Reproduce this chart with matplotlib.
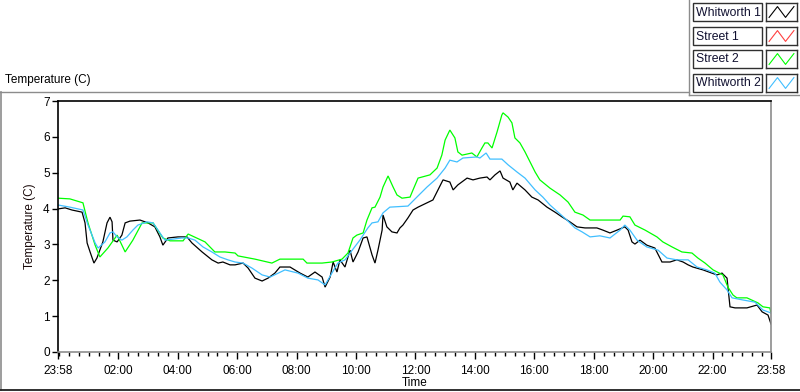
import matplotlib
matplotlib.use("Agg")
import matplotlib.pyplot as plt
from matplotlib.patches import Rectangle
from matplotlib.lines import Line2D

plt.rcParams['font.family'] = ['Liberation Sans', 'DejaVu Sans']

# ---- data: hours elapsed since 23:58, temperature (C) ----
w1_h = [0, 0.24, 0.47, 0.81, 0.91, 0.98, 1.08, 1.21, 1.31, 1.51, 1.65, 1.75, 1.82, 1.85, 1.99,
        2.15, 2.26, 2.42, 2.76, 3.03, 3.26, 3.43, 3.53, 3.70, 4.04, 4.34, 4.51, 4.85, 5.18, 5.39,
        5.55, 5.79, 5.96, 6.23, 6.40, 6.63, 6.87, 7.07, 7.30, 7.47, 7.81, 8.15, 8.41, 8.65, 8.89,
        8.99, 9.16, 9.26, 9.39, 9.49, 9.66, 9.83, 9.93, 10.10, 10.27, 10.40, 10.57, 10.67, 10.77,
        10.91, 10.94, 11.07, 11.24, 11.41, 11.51, 11.61, 11.78, 11.95, 12.12, 12.42, 12.62, 12.79,
        12.96, 13.19, 13.30, 13.46, 13.77, 13.97, 14.20, 14.44, 14.54, 14.71, 14.88, 14.98, 15.21,
        15.31, 15.45, 15.72, 15.95, 16.16, 16.46, 16.73, 16.96, 17.23, 17.47, 17.74, 18.14, 18.34,
        18.58, 18.82, 19.08, 19.19, 19.32, 19.42, 19.59, 19.82, 20.09, 20.33, 20.60, 20.83, 21.04,
        21.21, 21.37, 21.71, 22.01, 22.18, 22.35, 22.52, 22.62, 22.79, 23.19, 23.53, 23.70, 23.90,
        24.0]
w1_t = [3.99, 4.02, 3.96, 3.90, 3.60, 3.04, 2.79, 2.48, 2.62, 3.07, 3.60, 3.76, 3.63, 3.12, 3.07,
        3.26, 3.60, 3.65, 3.68, 3.60, 3.49, 3.21, 2.98, 3.18, 3.21, 3.21, 3.04, 2.79, 2.57, 2.48,
        2.51, 2.43, 2.43, 2.48, 2.34, 2.06, 1.98, 2.06, 2.20, 2.37, 2.37, 2.20, 2.09, 2.23, 2.09,
        1.81, 2.09, 2.51, 2.23, 2.57, 2.37, 2.84, 2.51, 2.79, 3.18, 3.21, 2.71, 2.48, 2.84,
        3.40, 3.82, 3.49, 3.35, 3.32, 3.46, 3.54, 3.74, 3.96, 4.04, 4.16, 4.24, 4.52,
        4.80, 4.74, 4.52, 4.66, 4.85, 4.80, 4.85, 4.88, 4.80, 4.94, 5.05, 4.85, 4.74,
        4.52, 4.71, 4.52, 4.32, 4.24, 4.04, 3.90, 3.77, 3.63, 3.49, 3.46, 3.46, 3.40,
        3.32, 3.40, 3.49, 3.40, 3.07, 3.01, 3.12, 2.98, 2.90, 2.51, 2.51, 2.57, 2.51,
        2.43, 2.37, 2.29, 2.20, 2.15, 2.20, 2.06, 1.26, 1.23, 1.23, 1.31, 1.12, 1.03,
        0.78]

s1_h = []
s1_t = []

s2_h = [0, 0.40, 0.84, 1.01, 1.25, 1.41, 1.68, 1.99, 2.26, 2.52, 2.83, 3.20, 3.53, 3.77, 4.21,
        4.38, 4.95, 5.28, 5.62, 5.96, 6.06, 6.63, 7.20, 7.47, 8.25, 8.38, 8.89, 9.22, 9.56, 9.76,
        9.93, 10.06, 10.27, 10.40, 10.57, 10.67, 10.84, 10.94, 11.11, 11.28, 11.41, 11.58, 11.85,
        11.95, 12.12, 12.52, 12.76, 12.92, 13.03, 13.19, 13.36, 13.46, 13.60, 13.93, 14.10, 14.27,
        14.37, 14.47, 14.61, 14.78, 14.94, 14.98, 15.15, 15.28, 15.38, 15.55, 15.72, 15.89, 16.06,
        16.22, 16.56, 16.90, 17.17, 17.40, 17.67, 17.91, 18.58, 18.92, 19.02, 19.25, 19.42, 19.76,
        20.16, 20.36, 20.67, 21.00, 21.34, 21.54, 21.78, 22.05, 22.38, 22.55, 22.72, 22.85, 23.19,
        23.56, 23.73, 23.96, 24.0]
s2_t = [4.29, 4.27, 4.16, 3.60, 2.98, 2.65, 2.90, 3.26, 2.79, 3.12, 3.60, 3.60, 3.18, 3.10, 3.10,
        3.29, 3.07, 2.79, 2.79, 2.76, 2.68, 2.59, 2.48, 2.59, 2.59, 2.48, 2.48, 2.51, 2.59, 2.76,
        3.18, 3.26, 3.32, 3.68, 4.02, 4.04, 4.32, 4.60, 4.91, 4.60, 4.38, 4.29, 4.32,
        4.52, 4.85, 4.94, 5.13, 5.49, 5.91, 6.19, 5.97, 5.58, 5.49, 5.55, 5.44, 5.69,
        5.83, 5.83, 5.69, 6.14, 6.61, 6.67, 6.55, 6.39, 5.97, 5.83, 5.58, 5.30, 5.02,
        4.80, 4.57, 4.38, 4.18, 3.90, 3.82, 3.68, 3.68, 3.68, 3.79, 3.77, 3.54, 3.40,
        3.21, 3.07, 2.93, 2.79, 2.76, 2.62, 2.48, 2.29, 2.15, 1.81, 1.59, 1.51, 1.51,
        1.37, 1.26, 1.23, 1.09]

w2_h = [0, 0.40, 0.84, 1.01, 1.25, 1.35, 1.58, 1.75, 1.85, 1.99, 2.15, 2.32, 2.52, 2.69, 3.00,
        3.20, 3.43, 3.60, 4.17, 4.38, 4.61, 4.88, 5.18, 5.45, 5.72, 5.96, 6.23, 6.53, 6.87, 7.14,
        7.64, 8.08, 8.41, 8.75, 8.99, 9.22, 9.42, 9.66, 9.83, 10.16, 10.43, 10.57, 10.77, 10.94,
        11.17, 11.78, 12.08, 12.42, 12.76, 13.03, 13.19, 13.43, 13.63, 14.10, 14.20, 14.41, 14.54,
        14.94, 15.15, 15.45, 15.72, 16.06, 16.32, 16.56, 16.83, 17.13, 17.40, 17.64, 17.91, 18.24,
        18.58, 18.92, 19.08, 19.25, 19.49, 19.82, 20.20, 20.50, 20.83, 21.21, 21.51, 21.84, 22.11,
        22.28, 22.52, 22.69, 23.06, 23.46, 23.73, 24.0]
w2_t = [4.10, 4.04, 3.96, 3.54, 3.04, 2.90, 3.07, 3.32, 3.35, 3.21, 3.12, 3.21, 3.40, 3.54, 3.63,
        3.60, 3.32, 3.12, 3.18, 3.18, 3.12, 2.93, 2.79, 2.65, 2.57, 2.51, 2.48, 2.34, 2.15, 2.09,
        2.29, 2.20, 2.06, 2.01, 1.87, 2.20, 2.48, 2.57, 2.76, 3.12, 3.46, 3.60, 3.63, 3.88,
        4.04, 4.07, 4.32, 4.60, 4.85, 5.13, 5.35, 5.30, 5.41, 5.44, 5.41, 5.55, 5.38,
        5.38, 5.22, 5.02, 4.85, 4.52, 4.32, 4.10, 3.90, 3.68, 3.46, 3.35, 3.21, 3.24,
        3.18, 3.40, 3.54, 3.40, 3.12, 2.93, 2.84, 2.62, 2.57, 2.57, 2.37, 2.29, 2.20,
        1.95, 1.73, 1.51, 1.45, 1.39, 1.17, 1.09]

series_names = ["Whitworth 1", "Street 1", "Street 2", "Whitworth 2"]
series_colors = ["#000000", "#ff4040", "#00ff00", "#40bfff"]
series_data = [(w1_h, w1_t), (s1_h, s1_t), (s2_h, s2_t), (w2_h, w2_t)]

major_ticks = [0, 2 + 2/60, 4 + 2/60, 6 + 2/60, 8 + 2/60, 10 + 2/60, 12 + 2/60, 14 + 2/60,
               16 + 2/60, 18 + 2/60, 20 + 2/60, 22 + 2/60, 24]
major_labels = ["23:58", "02:00", "04:00", "06:00", "08:00", "10:00", "12:00", "14:00",
                "16:00", "18:00", "20:00", "22:00", "23:58"]
y_ticks = [0, 1, 2, 3, 4, 5, 6, 7]

W, H = 800, 392
fig = plt.figure(figsize=(W / 100, H / 100), dpi=100)
fig.patch.set_facecolor("white")

def fx(x):
    return x / W

def fy(y):
    return 1 - y / H

ax = fig.add_axes([fx(58), fy(352), (771 - 58) / W, (352 - 101) / H])
for (h, t), c in zip(series_data, series_colors):
    ax.plot(h, t, color=c, lw=0.9, solid_joinstyle="miter")

ax.set_xlim(0, 24)
ax.set_ylim(0, 7)
ax.set_xticks(major_ticks)
ax.set_xticklabels(major_labels)
minor = [(20 * k + 2) / 60 for k in range(72)]
ax.set_xticks(minor, minor=True)
ax.set_yticks(y_ticks)
ax.tick_params(axis="y", which="major", length=4, width=1, color="black",
               labelsize=8.5, pad=2)
ax.tick_params(axis="x", which="major", length=5, width=1, color="black",
               labelsize=8.5, pad=4)
ax.tick_params(axis="x", which="minor", length=3, width=1, color="black")
ax.spines["left"].set_color("black")
ax.spines["top"].set_color("black")
ax.spines["right"].set_color("#8c8c8c")
ax.spines["bottom"].set_color("#8c8c8c")
for s in ax.spines.values():
    s.set_linewidth(1.2)
ax.set_xlabel("Time", fontsize=8.5, labelpad=0.5)
ax.set_ylabel("Temperature (C)", fontsize=8.5, labelpad=5, color="#1a0a0a")

# panel title
fig.text(fx(5), fy(80), "Temperature (C)", fontsize=8.5, ha="left", va="center")

# panel borders
gray = "#8c8c8c"
fig.add_artist(Line2D([fx(0), fx(689)], [fy(91.5), fy(91.5)], color=gray, lw=1))
fig.add_artist(Line2D([fx(1), fx(1)], [fy(91.5), fy(390)], color=gray, lw=1.2))
fig.add_artist(Line2D([fx(0), fx(800)], [fy(390), fy(390)], color="#202020", lw=1.3))
fig.add_artist(Line2D([fx(689), fx(689)], [fy(0), fy(95)], color=gray, lw=1))
fig.add_artist(Line2D([fx(689), fx(800)], [fy(95), fy(95)], color=gray, lw=1))

# legend
tops = [3, 27, 50, 74]
for name, col, top in zip(series_names, series_colors, tops):
    bh = 18
    fig.add_artist(Rectangle((fx(693), fy(top + bh)), (762 - 693) / W, bh / H,
                             transform=fig.transFigure, facecolor="white",
                             edgecolor="#303030", lw=1))
    fig.text(fx(696), fy(top + bh / 2 + 0.5), name, fontsize=8.8, ha="left", va="center",
             color="#101030")
    iax = fig.add_axes([fx(766), fy(top + bh), (797 - 766) / W, bh / H])
    iax.set_xlim(0, 1)
    iax.set_ylim(0, 1)
    iax.set_xticks([])
    iax.set_yticks([])
    for s in iax.spines.values():
        s.set_color("#303030")
        s.set_linewidth(1)
    iax.plot([0.1, 0.37, 0.63, 0.9], [0.2, 0.8, 0.2, 0.8], color=col, lw=0.8)

fig.savefig("out.png", dpi=100)
